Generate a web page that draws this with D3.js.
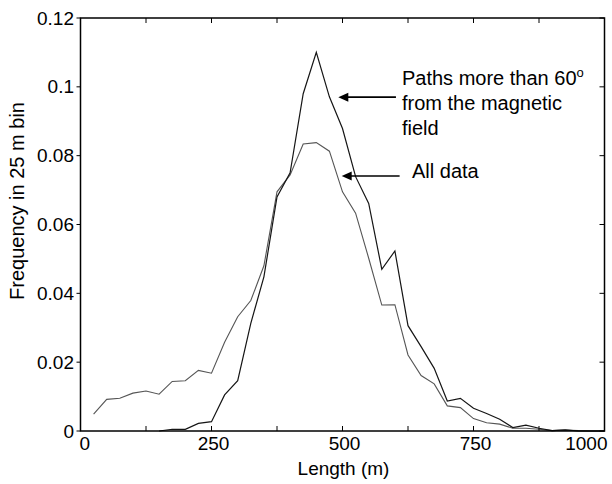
<!DOCTYPE html>
<html>
<head>
<meta charset="utf-8">
<script src="https://cdn.jsdelivr.net/npm/d3@7"></script>
<style>
    body { margin: 0; background: #fff; }
    svg text { font-family: "Liberation Sans", Arial, sans-serif; fill: #000; }
</style>
</head>
<body>
<div class="chart"></div>
<script>
(function() {

    // bin positions (m)
    var lengths = [25, 50, 75, 100, 125, 150, 175, 200, 225, 250,
                   275, 300, 325, 350, 375, 400, 425, 450, 475, 500,
                   525, 550, 575, 600, 625, 650, 675, 700, 725, 750,
                   775, 800, 825, 850, 875, 900, 925, 950, 975, 1000];

    var allData = [0.0049, 0.0092, 0.0095, 0.0110, 0.0116, 0.0107, 0.0144, 0.0146, 0.0176, 0.0168,
                   0.0258, 0.0332, 0.0379, 0.0480, 0.0695, 0.0744, 0.0834, 0.0838, 0.0813, 0.0695,
                   0.0633, 0.0502, 0.0366, 0.0367, 0.0221, 0.0161, 0.0137, 0.0073, 0.0068, 0.0036,
                   0.0024, 0.0020, 0.0008, 0.0008, 0.0005, 0.0001, 0.0003, 0.0001, 0, 0];

    // paths more than 60 deg from the field (nothing below 150 m)
    var paths60 = [null, null, null, null, null, 0, 0.0005, 0.0005, 0.0022, 0.0027,
                   0.0105, 0.0146, 0.0313, 0.0448, 0.0680, 0.0750, 0.0980, 0.1100, 0.0971, 0.0879,
                   0.0739, 0.0661, 0.0470, 0.0523, 0.0306, 0.0245, 0.0182, 0.0087, 0.0095, 0.0066,
                   0.0051, 0.0034, 0.0010, 0.0017, 0.0008, 0.0001, 0.0003, 0, 0, 0];

    var xTicks = [0, 125, 250, 375, 500, 625, 750, 875, 1000];
    var xLabels = [0, 250, 500, 750, 1000];
    var yTicks = [0, 0.02, 0.04, 0.06, 0.08, 0.1, 0.12];

    var W = 612, H = 484;
    var m = { l: 80.5, r: 604.5, t: 18, b: 431 };

    var svg = d3.select('.chart')
        .append('svg')
        .attr('width', W)
        .attr('height', H);

    var x = d3.scaleLinear().domain([0, 1000]).range([m.l, m.r]);
    var y = d3.scaleLinear().domain([0, 0.12]).range([m.b, m.t]);

    var line = d3.line()
        .defined(function(d) { return d[1] !== null; })
        .x(function(d) { return x(d[0]); })
        .y(function(d) { return y(d[1]); });

    function pairs(vals) {
        return lengths.map(function(v, i) { return [v, vals[i]]; });
    }

    svg.append('path')
        .attr('d', line(pairs(allData)))
        .attr('fill', 'none')
        .attr('stroke', '#555')
        .attr('stroke-width', 1.1);

    svg.append('path')
        .attr('d', line(pairs(paths60)))
        .attr('fill', 'none')
        .attr('stroke', '#151515')
        .attr('stroke-width', 1.2);

    // ticks
    var tk = svg.append('g').attr('stroke', '#000').attr('stroke-width', 1);
    xTicks.forEach(function(v) {
        tk.append('line').attr('x1', x(v)).attr('x2', x(v)).attr('y1', m.b).attr('y2', m.b - 5);
        tk.append('line').attr('x1', x(v)).attr('x2', x(v)).attr('y1', m.t).attr('y2', m.t + 5);
    });
    yTicks.forEach(function(v) {
        tk.append('line').attr('x1', m.l).attr('x2', m.l - 4).attr('y1', y(v)).attr('y2', y(v));
        tk.append('line').attr('x1', m.r).attr('x2', m.r - 5).attr('y1', y(v)).attr('y2', y(v));
    });

    // box
    svg.append('rect')
        .attr('x', m.l).attr('y', m.t)
        .attr('width', m.r - m.l).attr('height', m.b - m.t)
        .attr('fill', 'none')
        .attr('stroke', '#000')
        .attr('stroke-width', 1.5);

    svg.selectAll('.xlab')
        .data(xLabels)
        .enter()
        .append('text')
        .attr('class', 'xlab')
        .attr('x', function(d, i) {
            if (i == 0) return x(d) - 1;
            if (i == xLabels.length - 1) return x(d) + 3;
            return x(d) + 2;
        })
        .attr('y', 450)
        .attr('font-size', 19)
        .attr('text-anchor', function(d, i) {
            return i == 0 ? 'start' : (i == xLabels.length - 1 ? 'end' : 'middle');
        })
        .text(function(d) { return d; });

    svg.selectAll('.ylab')
        .data(yTicks)
        .enter()
        .append('text')
        .attr('class', 'ylab')
        .attr('x', 74)
        .attr('y', function(d) { return y(d) + 6.5; })
        .attr('font-size', 19)
        .attr('text-anchor', 'end')
        .text(function(d) { return d; });

    svg.append('text')
        .attr('x', (m.l + m.r) / 2 + 1)
        .attr('y', 475)
        .attr('font-size', 19)
        .attr('text-anchor', 'middle')
        .text('Length (m)');

    svg.append('text')
        .attr('transform', 'translate(24,201) rotate(-90)')
        .attr('font-size', 20)
        .attr('text-anchor', 'middle')
        .text('Frequency in 25 m bin');

    // annotations: arrows point left, tip at the first x
    function arrow(x1, x2, yv) {
        var tx = x(x1), ty = y(yv);
        svg.append('line')
            .attr('x1', tx + 8).attr('x2', x(x2))
            .attr('y1', ty).attr('y2', ty)
            .attr('stroke', '#000')
            .attr('stroke-width', 1.6);
        svg.append('path')
            .attr('d', 'M' + tx + ',' + ty + ' L' + (tx + 10) + ',' + (ty - 4.5) +
                       ' L' + (tx + 10) + ',' + (ty + 4.5) + ' Z')
            .attr('fill', '#000');
    }
    arrow(492, 602, 0.097);
    arrow(498.5, 609, 0.0741);

    var note = svg.append('text')
        .attr('x', x(613.5))
        .attr('y', 85)
        .attr('font-size', 20);
    note.append('tspan').text('Paths more than 60');
    note.append('tspan').attr('font-size', 13).attr('dy', -8).text('o');
    note.append('tspan').attr('x', x(613.5)).attr('y', 110).text('from the magnetic');
    note.append('tspan').attr('x', x(613.5)).attr('y', 135).text('field');

    svg.append('text')
        .attr('x', x(632.6))
        .attr('y', 178)
        .attr('font-size', 20)
        .text('All data');

})();
</script>
</body>
</html>
